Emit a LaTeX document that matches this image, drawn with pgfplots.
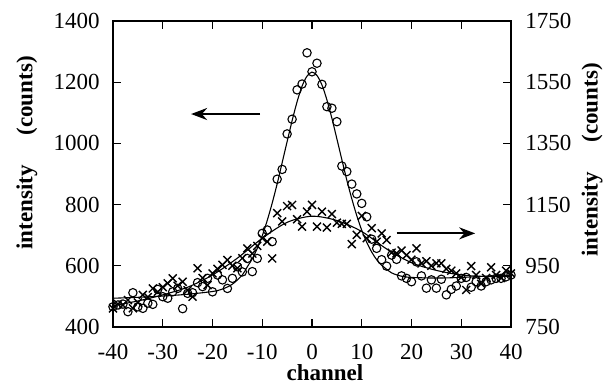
\documentclass[border=0pt]{standalone}
\usepackage{pgfplots}
\pgfplotsset{compat=1.18}
\usepackage{fontspec}
\setmainfont{Liberation Serif}
\usetikzlibrary{arrows.meta}

\pgfplotstableread{
ch val
-40 466
-39 472
-38 475
-37 450
-36 512
-35 466
-34 461
-33 478
-32 474
-31 523
-30 499
-29 494
-28 515
-27 526
-26 460
-25 510
-24 512
-23 545
-22 532
-21 559
-20 515
-19 570
-18 554
-17 526
-16 559
-15 597
-14 580
-13 624
-12 581
-11 624
-10 706
-9 717
-8 679
-7 883
-6 915
-5 1031
-4 1079
-3 1175
-2 1194
-1 1296
0 1234
1 1262
2 1193
3 1120
4 1115
5 1071
6 926
7 908
8 867
9 835
10 804
11 760
12 687
13 657
14 620
15 599
16 635
17 621
18 567
19 559
20 548
21 613
22 567
23 527
24 554
25 527
26 556
27 505
28 523
29 534
30 559
31 562
32 530
33 548
34 534
35 548
36 554
37 559
38 559
39 564
40 570
}\circdata

\pgfplotstableread{
ch val
-40 494
-35 497
-30 501
-25 507
-20 516
-18 524
-16 540
-14 570
-13 597
-12 623
-11 657
-10 698
-9 748
-8 805
-7 868
-6 937
-5 1006
-4 1074
-3 1136
-2 1187
-1 1220
0 1233
1 1222
2 1191
3 1142
4 1082
5 1015
6 947
7 880
8 819
9 764
10 716
11 677
12 645
13 620
14 602
16 577
18 566
20 562
25 560
30 562
35 566
40 569
}\circfit

\pgfplotstableread{
ch val
-40 811
-39 825
-38 822
-37 838
-36 811
-35 830
-34 855
-33 848
-32 876
-31 865
-30 880
-29 893
-28 909
-27 885
-26 898
-25 870
-24 849
-23 942
-22 910
-21 887
-20 925
-19 940
-18 953
-17 969
-16 950
-15 942
-14 975
-13 1007
-12 990
-11 1015
-10 1040
-9 1029
-8 974
-7 1122
-6 1095
-5 1145
-4 1149
-3 1102
-2 1078
-1 1127
0 1149
1 1078
2 1127
3 1075
4 1119
5 1091
6 1087
7 1087
8 1021
9 1051
10 1113
11 1040
12 1073
13 1029
14 1056
15 1034
16 993
17 991
18 1000
19 985
20 970
21 1007
22 958
23 965
24 950
25 958
26 958
27 940
28 934
29 925
30 912
31 871
32 949
33 920
34 891
35 910
36 945
37 920
38 910
39 934
40 925
}\crossdata

\pgfplotstableread{
ch val
-40 820
-35 835
-30 855
-25 880
-20 920
-15 975
-10 1040
-5 1092
0 1112
5 1098
10 1062
15 1005
20 960
25 935
30 920
35 915
40 915
}\crossfit

\begin{document}
\begin{tikzpicture}
\useasboundingbox (-56.5pt,-29pt) rectangle (246pt,163.5pt);
\pgfplotsset{
  every axis/.append style={
    scale only axis, width=199pt, height=153pt,
    at={(0pt,0pt)}, anchor=south west,
    xmin=-40, xmax=40,
    tick align=inside, major tick length=3.8pt,
    axis line style={line width=0.6pt},
    every tick/.style={black, line width=0.6pt},
    tick label style={font=\fontsize{11.5}{13}\selectfont},
    label style={font=\fontsize{11.5}{13}\selectfont\bfseries},
    /pgf/number format/assume math mode=true,
    /pgf/number format/1000 sep={},
  }
}
\begin{axis}[
  ymin=400, ymax=1400,
  ytick={400,600,...,1400},
  xtick={-40,-30,...,40},
  xtick pos=both,
  ytick pos=left,
  xticklabel style={anchor=center, yshift=-12.5pt},
  yticklabel style={anchor=east, inner sep=0pt, xshift=-6.5pt},
  xlabel={channel},
  xlabel style={at={(axis description cs:0.5,0)}, anchor=center, yshift=-23pt, xshift=6.5pt},
  ylabel={intensity\hspace{1.3em}(counts)},
  ylabel style={at={(axis description cs:0,0.5)}, anchor=center, xshift=10.5pt, yshift=43pt},
]
\addplot[only marks, mark=o, mark size=2.1pt, mark options={line width=0.55pt}] table[x=ch,y=val] {\circdata};
\addplot[smooth, line width=0.55pt] table[x=ch,y=val] {\circfit};
\draw[line width=1pt, -{Stealth[length=8pt,width=6pt]}] (axis cs:-10.45,1096) -- (axis cs:-24.3,1096);
\end{axis}
\begin{axis}[
  ymin=750, ymax=1750,
  ytick={750,950,...,1750},
  axis y line*=right,
  axis x line=none,
  yticklabel style={anchor=west, inner sep=0pt, xshift=7pt},
  ylabel={intensity\hspace{1.3em}(counts)},
  ylabel style={at={(axis description cs:1,0.5)}, anchor=center, xshift=7pt, yshift=-40.5pt},
]
\addplot[only marks, mark=x, mark size=2.8pt, mark options={line width=0.7pt}] table[x=ch,y=val] {\crossdata};
\addplot[smooth, line width=0.55pt] table[x=ch,y=val] {\crossfit};
\draw[line width=1pt, -{Stealth[length=8pt,width=6pt]}] (axis cs:17.0,1056) -- (axis cs:32.8,1056);
\end{axis}
\end{tikzpicture}
\end{document}
